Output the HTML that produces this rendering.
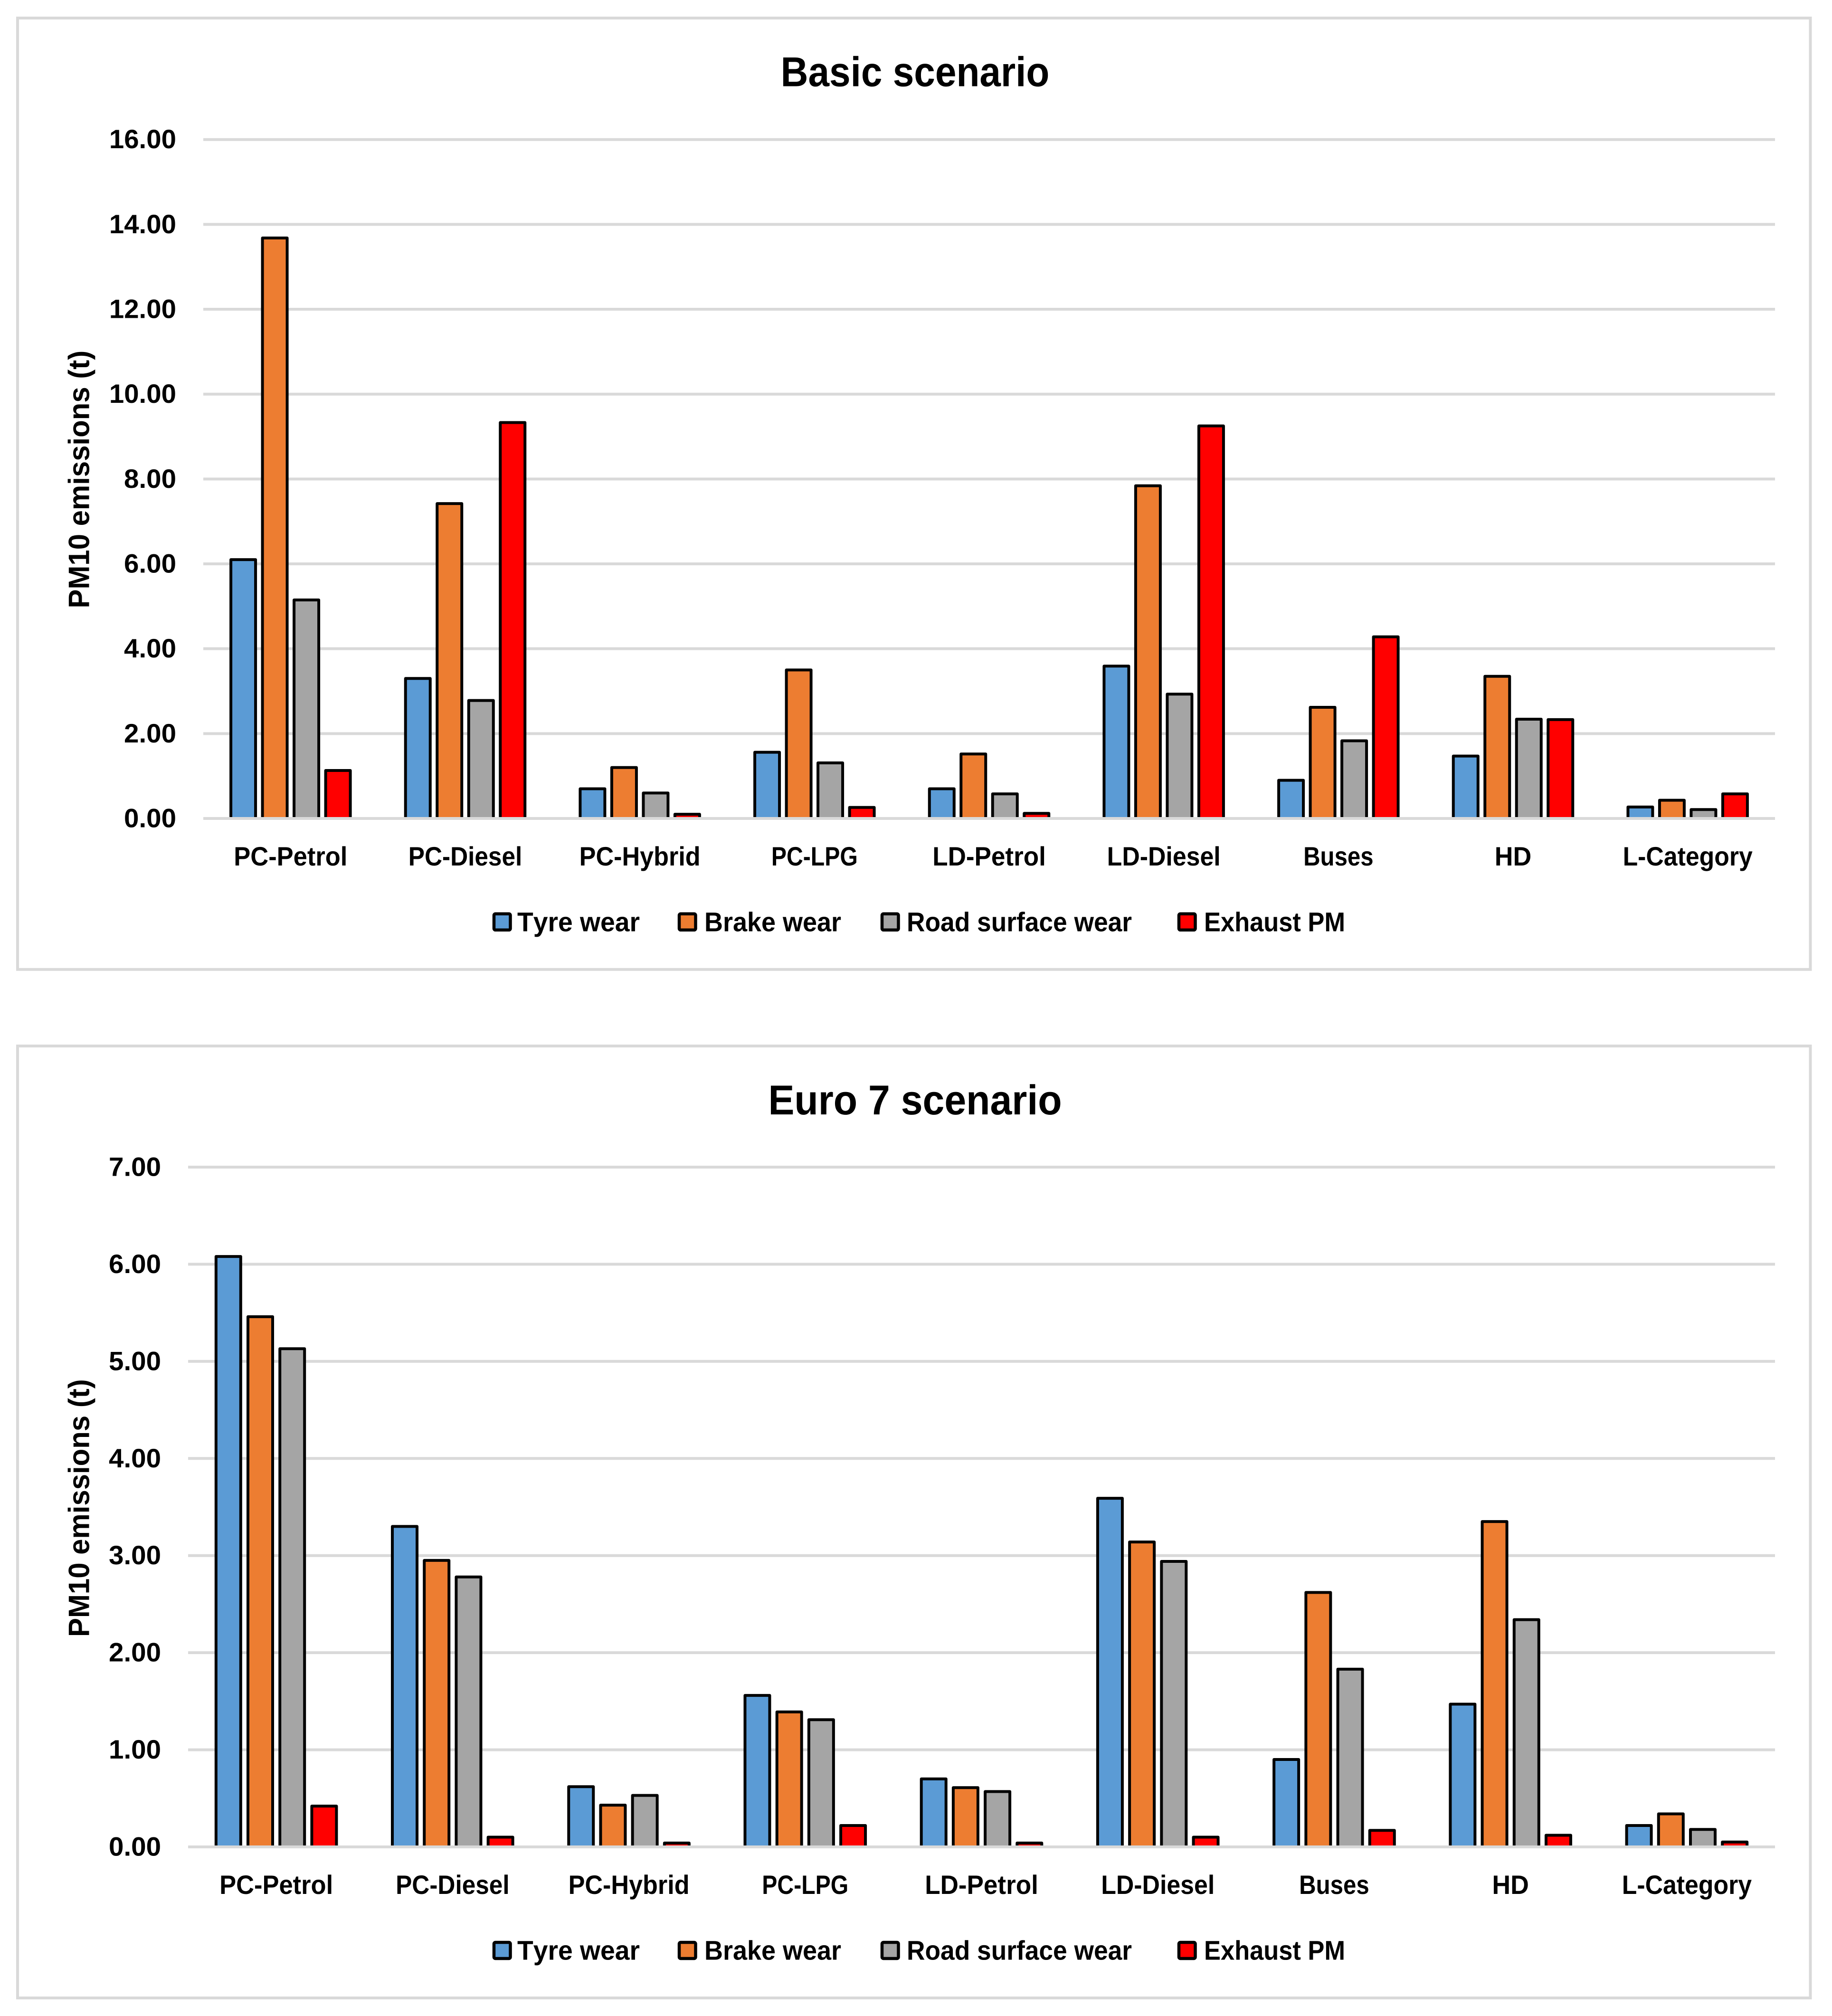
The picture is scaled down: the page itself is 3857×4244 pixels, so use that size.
<!DOCTYPE html>
<html lang="en">
<head>
<meta charset="utf-8">
<title>PM10 emissions by vehicle category: Basic and Euro 7 scenarios</title>
<style>
  html, body { margin: 0; padding: 0; background: #ffffff; }
  svg { display: block; }
  text { font-family: "Liberation Sans", Arial, sans-serif; font-weight: bold; fill: #000000; font-kerning: none; text-rendering: geometricPrecision; }
</style>
</head>
<body>
<svg id="figure" xmlns="http://www.w3.org/2000/svg" width="3857" height="4244" viewBox="0 0 3857 4244"></svg>
<script>
const categories = ['PC-Petrol', 'PC-Diesel', 'PC-Hybrid', 'PC-LPG', 'LD-Petrol', 'LD-Diesel', 'Buses', 'HD', 'L-Category'];
const seriesNames = ['Tyre wear', 'Brake wear', 'Road surface wear', 'Exhaust PM'];

const basicTyreWear = [6.10, 3.30, 0.70, 1.56, 0.70, 3.59, 0.90, 1.47, 0.27];
const basicBrakeWear = [13.68, 7.42, 1.20, 3.50, 1.52, 7.84, 2.62, 3.35, 0.43];
const basicRoadWear = [5.15, 2.78, 0.60, 1.31, 0.58, 2.93, 1.83, 2.34, 0.21];
const basicExhaustPm = [1.13, 9.33, 0.10, 0.26, 0.12, 9.25, 4.28, 2.33, 0.58];
const basicTickLabels = ['0.00', '2.00', '4.00', '6.00', '8.00', '10.00', '12.00', '14.00', '16.00'];

const euro7TyreWear = [6.08, 3.30, 0.62, 1.56, 0.70, 3.59, 0.90, 1.47, 0.22];
const euro7BrakeWear = [5.46, 2.95, 0.43, 1.39, 0.61, 3.14, 2.62, 3.35, 0.34];
const euro7RoadWear = [5.13, 2.78, 0.53, 1.31, 0.57, 2.94, 1.83, 2.34, 0.18];
const euro7ExhaustPm = [0.42, 0.10, 0.04, 0.22, 0.04, 0.10, 0.17, 0.12, 0.05];
const euro7TickLabels = ['0.00', '1.00', '2.00', '3.00', '4.00', '5.00', '6.00', '7.00'];

/* Advance widths (em) used to fit each label to the width seen in the reference. */
const ADVANCE = {' ':.226,'(':.312,')':.312,'-':.306,'.':.267,'0':.507,'1':.507,'2':.507,'3':.507,'4':.507,'5':.507,'6':.507,'7':.507,'8':.507,'9':.507,
  B:.561,C:.529,D:.630,E:.495,G:.637,H:.630,L:.423,M:.874,P:.532,R:.563,T:.495,
  a:.494,b:.537,c:.418,d:.537,e:.503,f:.316,g:.474,h:.537,i:.246,k:.479,l:.246,m:.813,n:.537,o:.537,r:.355,s:.399,t:.347,u:.537,w:.745,x:.459,y:.474};
const FILLS = ['#5b9bd5', '#ed7d31', '#a5a5a5', '#ff0000'];
const GRID = '#d9d9d9';
const SVGNS = 'http://www.w3.org/2000/svg';
const fig = document.getElementById('figure');

function make(tag, attrs, parent) {
  const el = document.createElementNS(SVGNS, tag);
  for (const k in attrs) el.setAttribute(k, attrs[k]);
  parent.appendChild(el);
  return el;
}
function fitWidth(str, nominal) {
  let w = 0;
  for (const ch of str) w += (ADVANCE[ch] || .5);
  return w * nominal;
}
function placeText(str, startX, y, size, w, parent) {
  const el = make('text', { x: startX, y: y, 'font-size': size, textLength: w.toFixed(1), lengthAdjust: 'spacingAndGlyphs' }, parent);
  el.textContent = str;
  return el;
}
function label(str, x, y, size, nominal, parent, anchor) {
  const w = fitWidth(str, nominal);
  const startX = anchor === 'middle' ? x - w / 2 : anchor === 'end' ? x - w : x;
  return placeText(str, startX, y, size, w, parent);
}

function drawChart(cfg) {
  const g = make('g', {}, fig);
  
  

  const frame = make('rect', { x: 37, y: cfg.frameTop, width: 3774.5, height: cfg.frameBottom - cfg.frameTop, fill: '#ffffff', stroke: GRID, 'stroke-width': 6 }, g);
  
  

  const title = label(cfg.title, 1926.5, cfg.titleY, 88, 97, g, 'middle');
  
  

  const maxTick = parseFloat(cfg.ticks[cfg.ticks.length - 1]);
  const yScale = v => cfg.zeroY - (v / maxTick) * (cfg.zeroY - cfg.topY);
  const xBand = (cfg.right - cfg.left) / categories.length;
  const xCenter = i => cfg.left + xBand * (i + .5);

  cfg.ticks.forEach(t => {
    const y = yScale(parseFloat(t));
    if (parseFloat(t) !== 0) {
      const line = make('line', { x1: cfg.left, x2: cfg.right, y1: y, y2: y, stroke: GRID, 'stroke-width': 6 }, g);
      
      
    }
    const tick = label(t, cfg.tickRight, y + 18.5, 56, 61.5, g, 'end');
    
    
  });

  cfg.series.forEach((values, s) => {
    values.forEach((v, i) => {
      const x = xCenter(i) + (s - 1.5) * cfg.pitch - 26;
      const y = yScale(v);
      const bar = make('rect', { x: x, y: y, width: 52, height: Math.max(cfg.zeroY - y, 0), fill: FILLS[s], stroke: '#000000', 'stroke-width': 6, 'stroke-linejoin': 'round' }, g);
      
      
    });
  });

  const axis = make('line', { x1: cfg.left, x2: cfg.right, y1: cfg.zeroY, y2: cfg.zeroY, stroke: GRID, 'stroke-width': 6 }, g);
  
  

  categories.forEach((c, i) => {
    const cat = label(c, xCenter(i), cfg.zeroY + 99, 56, 61.5, g, 'middle');
    
    
  });

  const yTitleGroup = make('g', { transform: 'translate(187.5 ' + cfg.yTitleBottom + ') rotate(-90)' }, g);
  
  
  const yTitle = label('PM10 emissions (t)', 0, 0, 62, 68.5, yTitleGroup, 'start');
  
  

  const swatchX = [1037, 1427, 1854, 2479];
  const legendTextX = [1089, 1483, 1909, 2535];
  const legendTextW = [258, 288, 474, 297];
  const legendTop = cfg.frameBottom - 120;
  seriesNames.forEach((name, s) => {
    const swatch = make('rect', { x: swatchX[s] + 3, y: legendTop + 3, width: 34.5, height: 34, rx: 3, fill: FILLS[s], stroke: '#000000', 'stroke-width': 6.5 }, g);
    
    
    const entry = placeText(name, legendTextX[s], legendTop + 39.5, 57, legendTextW[s], g);
    
    
  });
}

drawChart({
  id: 'basic', title: 'Basic scenario',
  frameTop: 38, frameBottom: 2040.8, titleY: 181.7,
  left: 428, right: 3737, zeroY: 1723, topY: 293.7, tickRight: 371,
  pitch: 66.5, ticks: basicTickLabels, yTitleBottom: 1280.5,
  series: [basicTyreWear, basicBrakeWear, basicRoadWear, basicExhaustPm]
});
drawChart({
  id: 'euro-7', title: 'Euro 7 scenario',
  frameTop: 2202, frameBottom: 4206, titleY: 2346,
  left: 396, right: 3737, zeroY: 3888, topY: 2457, tickRight: 339,
  pitch: 67.2, ticks: euro7TickLabels, yTitleBottom: 3446,
  series: [euro7TyreWear, euro7BrakeWear, euro7RoadWear, euro7ExhaustPm]
});
</script>
</body>
</html>
